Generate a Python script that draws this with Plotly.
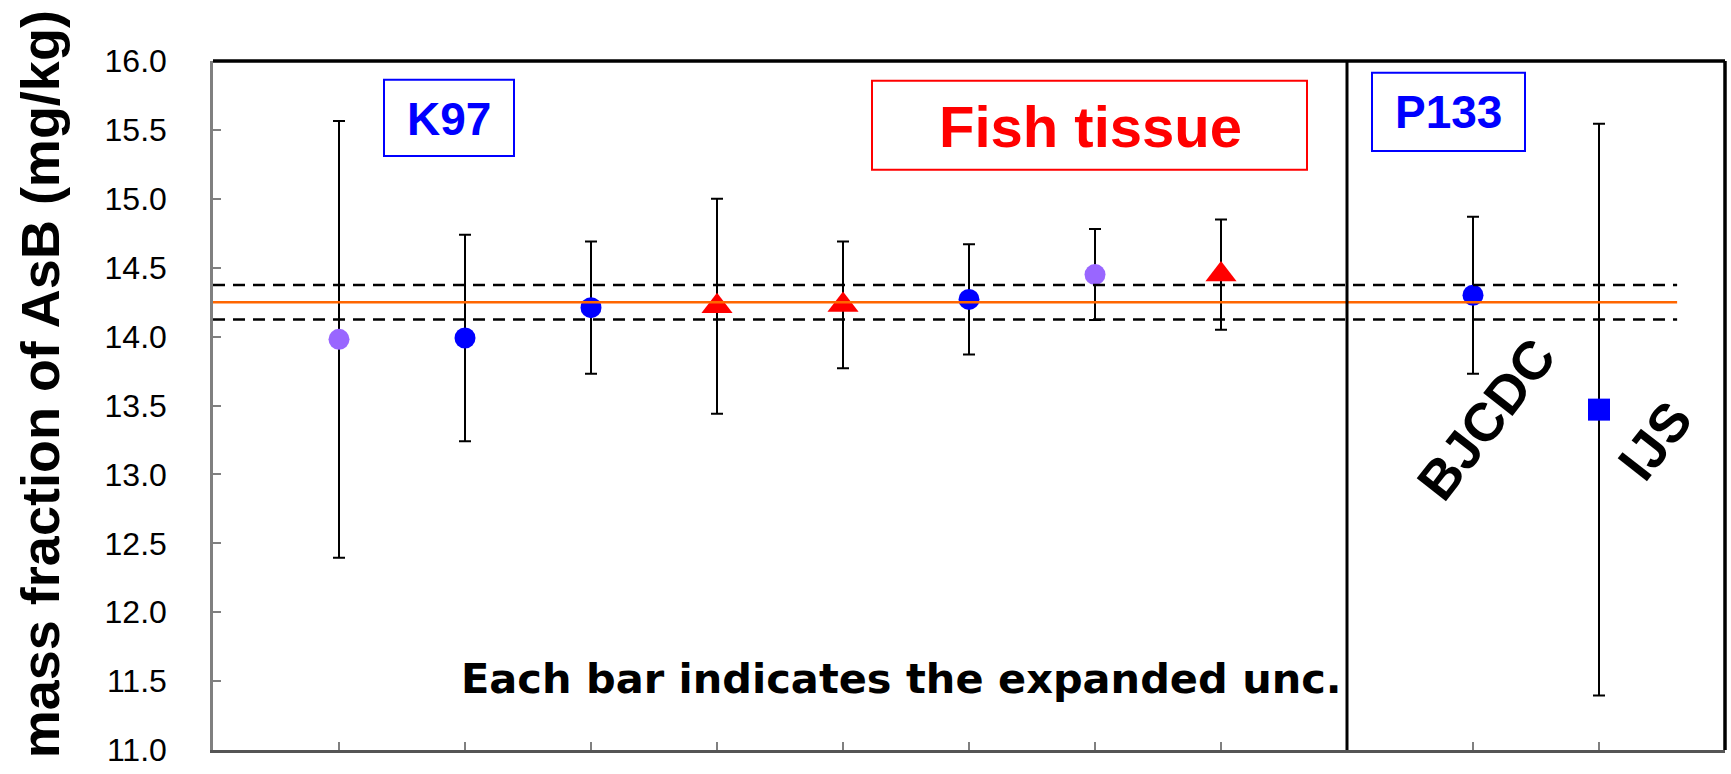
import plotly.graph_objects as go

# K97 participants (positions 1-8 on the category axis)
k97_x = [1, 2, 3, 4, 5, 6, 7, 8]
k97_val = [13.98, 13.99, 14.21, 14.22, 14.23, 14.27, 14.45, 14.45]
k97_unc = [1.585, 0.75, 0.48, 0.78, 0.46, 0.40, 0.33, 0.40]
k97_symbol = ["circle", "circle", "circle", "triangle-up", "triangle-up",
              "circle", "circle", "triangle-up"]
k97_color = ["#9966ff", "#0000ff", "#0000ff", "#ff0000", "#ff0000",
             "#0000ff", "#9966ff", "#ff0000"]

# P133 participants
p133_labels = ["BJCDC", "IJS"]
p133_x = [10, 11]
p133_val = [14.30, 13.47]
p133_unc = [0.57, 2.075]
p133_symbol = ["circle", "square"]
p133_color = ["#0000ff", "#0000ff"]

# reference value and its expanded uncertainty
kcrv = 14.25
kcrv_u = 0.125
ref_x = [0, 11.62]
divider_x = 9

y_ticks = [11.0, 11.5, 12.0, 12.5, 13.0, 13.5, 14.0, 14.5, 15.0, 15.5, 16.0]
x_ticks = [1, 2, 3, 4, 5, 6, 7, 8, 9, 10, 11]

W, H = 1731, 774
L, R, T, B = 213, 6, 61, 16
PW, PH = W - L - R, H - T - B


def px(x):
    return (x - L) / PW


def py(y):
    return (H - B - y) / PH


ARIAL = "Arial, Liberation Sans, sans-serif"

xs = k97_x + p133_x
vals = k97_val + p133_val
uncs = k97_unc + p133_unc
syms = k97_symbol + p133_symbol
cols = k97_color + p133_color
sizes = [27 if s == "triangle-up" else (22 if s == "square" else 21) for s in syms]

fig = go.Figure()

fig.add_trace(go.Scatter(
    x=xs, y=vals, mode="markers",
    marker=dict(symbol=syms, color=cols, size=sizes, opacity=1, line=dict(width=0)),
    error_y=dict(type="data", array=uncs, symmetric=True,
                 color="black", thickness=2, width=6),
    showlegend=False, hoverinfo="skip",
))

fig.add_trace(go.Scatter(
    x=ref_x, y=[kcrv, kcrv], mode="lines",
    line=dict(color="#ff6600", width=2.5), showlegend=False, hoverinfo="skip"))
for yy in (kcrv + kcrv_u, kcrv - kcrv_u):
    fig.add_trace(go.Scatter(
        x=ref_x, y=[yy, yy], mode="lines",
        line=dict(color="black", width=2.5, dash="12px,8px"),
        showlegend=False, hoverinfo="skip"))

shapes = [
    dict(type="line", xref="paper", yref="paper", x0=0, x1=1, y0=1, y1=1,
         line=dict(color="black", width=3.5)),
    dict(type="line", xref="paper", yref="paper", x0=1, x1=1, y0=0, y1=1,
         line=dict(color="black", width=3.5)),
    dict(type="line", xref="x", yref="paper", x0=divider_x, x1=divider_x, y0=0, y1=1,
         line=dict(color="black", width=3)),
    dict(type="rect", xref="paper", yref="paper",
         x0=px(384), x1=px(514), y0=py(157), y1=py(80),
         line=dict(color="#0000ff", width=2)),
    dict(type="rect", xref="paper", yref="paper",
         x0=px(872), x1=px(1307), y0=py(171), y1=py(81),
         line=dict(color="#ff0000", width=2)),
    dict(type="rect", xref="paper", yref="paper",
         x0=px(1372), x1=px(1525), y0=py(152), y1=py(73),
         line=dict(color="#0000ff", width=2)),
]

annotations = [
    dict(text="<b>mass fraction of AsB (mg/kg)</b>", xref="paper", yref="paper",
         x=px(40), y=py(388), textangle=-90, showarrow=False,
         xanchor="center", yanchor="middle",
         font=dict(family=ARIAL, size=54, color="black")),
    dict(text="<b>K97</b>", xref="paper", yref="paper", x=px(449), y=py(120),
         showarrow=False, xanchor="center", yanchor="middle",
         font=dict(family=ARIAL, size=46, color="#0000ff")),
    dict(text="<b>Fish tissue</b>", xref="paper", yref="paper", x=px(1090), y=py(127),
         showarrow=False, xanchor="center", yanchor="middle",
         font=dict(family=ARIAL, size=58, color="#ff0000")),
    dict(text="<b>P133</b>", xref="paper", yref="paper", x=px(1448), y=py(113),
         showarrow=False, xanchor="center", yanchor="middle",
         font=dict(family=ARIAL, size=46, color="#0000ff")),
    dict(text="<b>Each bar indicates the expanded unc.</b>", xref="paper", yref="paper",
         x=px(901), y=py(686), showarrow=False, xanchor="center", yanchor="middle",
         font=dict(family="Comic Sans MS, DejaVu Sans, sans-serif", size=41.5, color="black")),
    dict(text="<b>" + p133_labels[0] + "</b>", xref="paper", yref="paper",
         x=px(1486), y=py(423), textangle=-52, showarrow=False,
         xanchor="center", yanchor="middle",
         font=dict(family=ARIAL, size=54, color="black")),
    dict(text="<b>" + p133_labels[1] + "</b>", xref="paper", yref="paper",
         x=px(1654), y=py(445), textangle=-52, showarrow=False,
         xanchor="center", yanchor="middle",
         font=dict(family=ARIAL, size=54, color="black")),
]

fig.update_layout(
    width=W, height=H,
    margin=dict(l=L, r=R, t=T, b=B, pad=0),
    paper_bgcolor="white", plot_bgcolor="white",
    shapes=shapes, annotations=annotations,
    xaxis=dict(range=[0, 12], tickvals=x_ticks, showticklabels=False,
               ticks="inside", ticklen=8, tickwidth=1.5, tickcolor="#808080",
               showgrid=False, zeroline=False, showline=True,
               linecolor="#555555", linewidth=3),
    yaxis=dict(range=[11, 16], tickvals=y_ticks,
               ticktext=[f"{v:.1f}" for v in y_ticks],
               ticks="inside", ticklen=8, tickwidth=1.5, tickcolor="#808080",
               ticklabelstandoff=37, ticklabeloverflow="allow",
               tickfont=dict(family=ARIAL, size=32, color="black"),
               showgrid=False, zeroline=False, showline=True,
               linecolor="#808080", linewidth=2.5),
)

fig.write_html("out.html")
